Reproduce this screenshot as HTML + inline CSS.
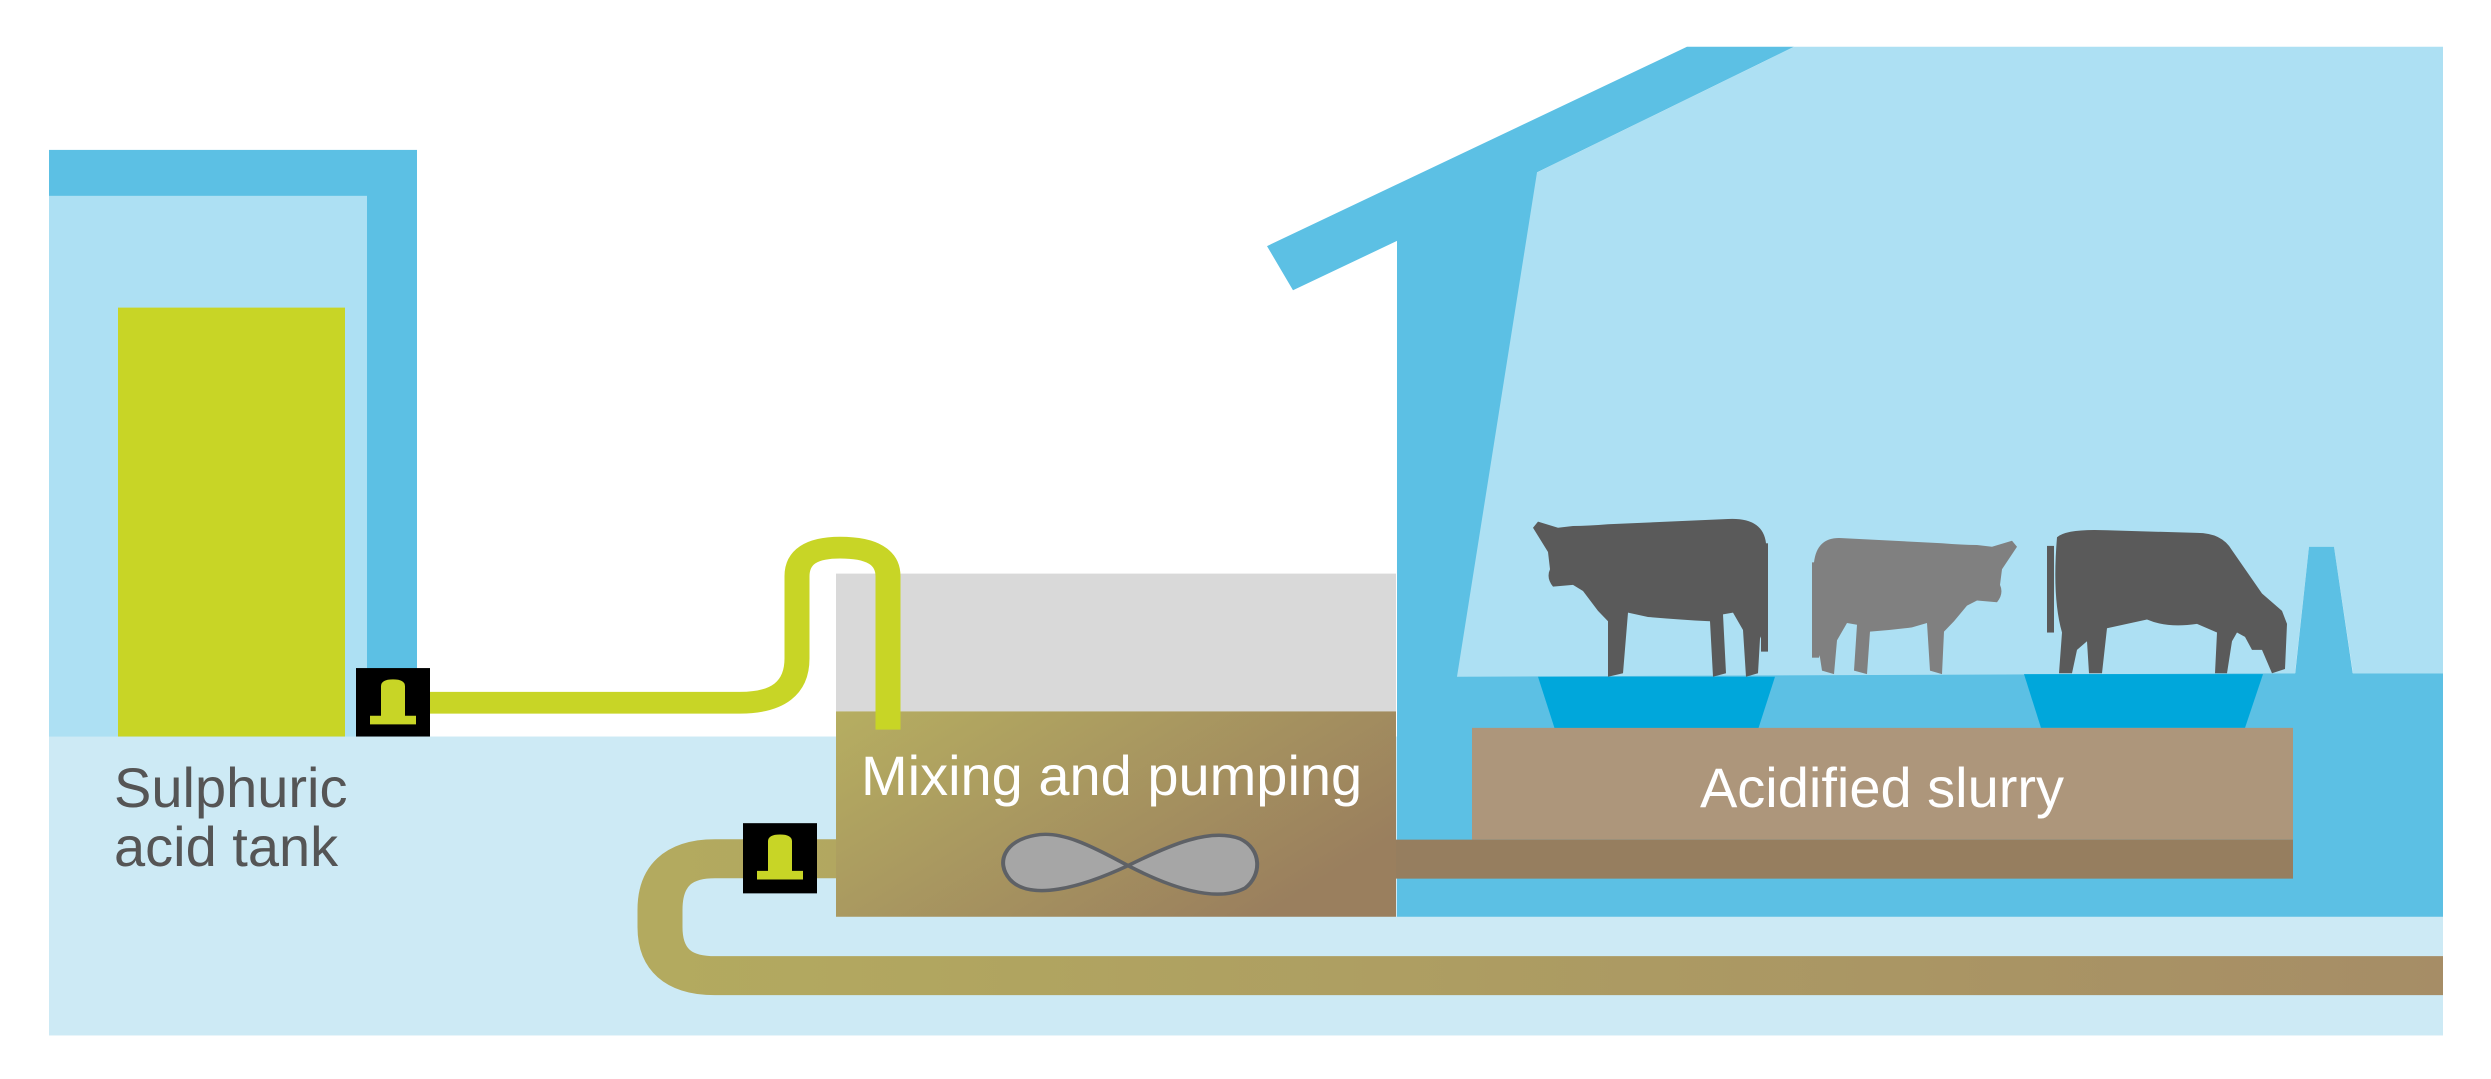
<!DOCTYPE html>
<html><head><meta charset="utf-8"><style>
html,body{margin:0;padding:0;background:#fff;overflow:hidden;}
svg{display:block;}
text{font-family:"Liberation Sans",sans-serif;}
</style></head><body>
<svg width="2491" height="1079" viewBox="0 0 2491 1079" xmlns="http://www.w3.org/2000/svg">
<defs>
<linearGradient id="mix" x1="0" y1="0" x2="1" y2="0.6">
<stop offset="0" stop-color="#b6ae61"/><stop offset="1" stop-color="#9a7f5e"/></linearGradient>
<linearGradient id="pipe" x1="0" y1="0" x2="1" y2="0">
<stop offset="0" stop-color="#b3aa5f"/><stop offset="1" stop-color="#a68d66"/></linearGradient>
</defs>
<g transform="scale(1,0.8665)">
<rect x="49" y="850" width="2394" height="345" fill="#cdeaf5"/>
<rect x="49" y="173" width="368" height="677" fill="#5cc0e4"/>
<rect x="49" y="226" width="318" height="624" fill="#ade0f3"/>
<rect x="118" y="355" width="227" height="495" fill="#c8d526"/>
<polygon points="1267,284 1687,54 1794,54 1537,199 1537,777 2443,777 2443,1058 1397,1058 1397,278 1293,335" fill="#5cc0e4"/>
<polygon points="1794,54 2443,54 2443,777 2353,777 2334,631 2309,631 2295,777 1457,781 1537,199" fill="#ade0f3"/>
<polygon points="2295,779 2309,631 2334,631 2353,779" fill="#5cc0e4"/>
<polygon points="1538,781 1775,781 1758,842 1555,842" fill="#00a7db"/>
<polygon points="2024,778 2263,778 2245,840 2041,840" fill="#00a7db"/>
<rect x="1472" y="840" width="821" height="129" fill="#ad967b"/>
<rect x="1396" y="969" width="897" height="45" fill="#967e5f"/>
<rect x="836" y="662" width="560" height="159" fill="#d9d9d9"/>
<rect x="836" y="821" width="560" height="237" fill="url(#mix)"/>
<path d="M1128,999 C1090,975 1060,958 1035,964 C1005,970 995,995 1010,1015 C1030,1040 1080,1025 1128,999 C1170,975 1210,955 1240,968 C1262,980 1262,1010 1245,1025 C1220,1040 1180,1030 1128,999 Z" fill="#a6a6a6" stroke="#5e6166" stroke-width="4"/>
<path d="M430,811 L740,811 Q797,811 797,760 L797,665 Q797,632 840,632 Q888,632 888,665 L888,842" fill="none" stroke="#c8d526" stroke-width="25"/>
<path d="M836,991 L715,991 Q660,991 660,1050 L660,1070 Q660,1126 715,1126 L2443,1126" fill="none" stroke="url(#pipe)" stroke-width="45"/>
<rect x="356" y="771" width="74" height="79" fill="#000"/>
<path d="M381,826 L381,792 Q381,784 393,784 Q405,784 405,792 L405,826 L416,826 L416,836 L370,836 L370,826 Z" fill="#c8d526"/>
<rect x="743" y="950" width="74" height="81" fill="#000"/>
<path d="M768,1005 L768,971 Q768,963 780,963 Q792,963 792,971 L792,1005 L803,1005 L803,1015 L757,1015 L757,1005 Z" fill="#c8d526"/>
<g transform="translate(1528,597)">
<path d="M10,5 L30,12 L45,10 Q60,10 80,8 L200,2 Q235,0 238,30 L236,90 Q240,120 232,140 L230,180 L218,184 L215,130 L205,110 L195,112 L198,180 L185,184 L182,120 Q150,118 120,115 L100,110 L95,180 L80,184 L80,120 L70,108 L55,85 L45,78 L25,80 Q18,70 22,60 L20,40 L5,12 Z" fill="#5a5a5a"/>
<rect x="233" y="30" width="7" height="125" fill="#5a5a5a"/>
</g>
<g transform="translate(2022,619) scale(-1,1)">
<path d="M10,5 L30,12 L45,10 Q60,10 80,8 L180,2 Q205,0 208,30 L206,90 Q210,120 202,140 L200,155 L188,159 L185,120 L175,100 L165,102 L168,155 L155,159 L152,110 Q130,108 110,105 L95,100 L92,155 L80,159 L78,110 L68,98 L55,80 L45,74 L25,76 Q18,66 22,56 L20,38 L5,12 Z" fill="#808080"/>
<rect x="203" y="30" width="7" height="110" fill="#808080"/>
</g>
<g transform="translate(2047,610)">
<path d="M10,10 Q20,0 60,2 L150,5 Q175,5 185,25 L215,75 L235,95 L240,110 L238,162 L225,167 L215,140 L205,140 L198,125 L190,120 L185,130 L180,167 L168,167 L170,120 L150,110 Q120,115 100,105 L60,115 L55,167 L42,167 L40,130 L30,140 L25,167 L12,167 L15,120 Q5,80 10,10 Z" fill="#5a5a5a"/>
<rect x="0" y="20" width="7" height="100" fill="#5a5a5a"/>
</g>
</g>
<text x="1882" y="807" font-size="56" fill="#fff" text-anchor="middle">Acidified slurry</text>
<text x="861" y="795" font-size="56" fill="#fff">Mixing and pumping</text>
<text x="114" y="807" font-size="56" fill="#555">Sulphuric</text>
<text x="114" y="866" font-size="56" fill="#555">acid tank</text>
</svg>
</body></html>
